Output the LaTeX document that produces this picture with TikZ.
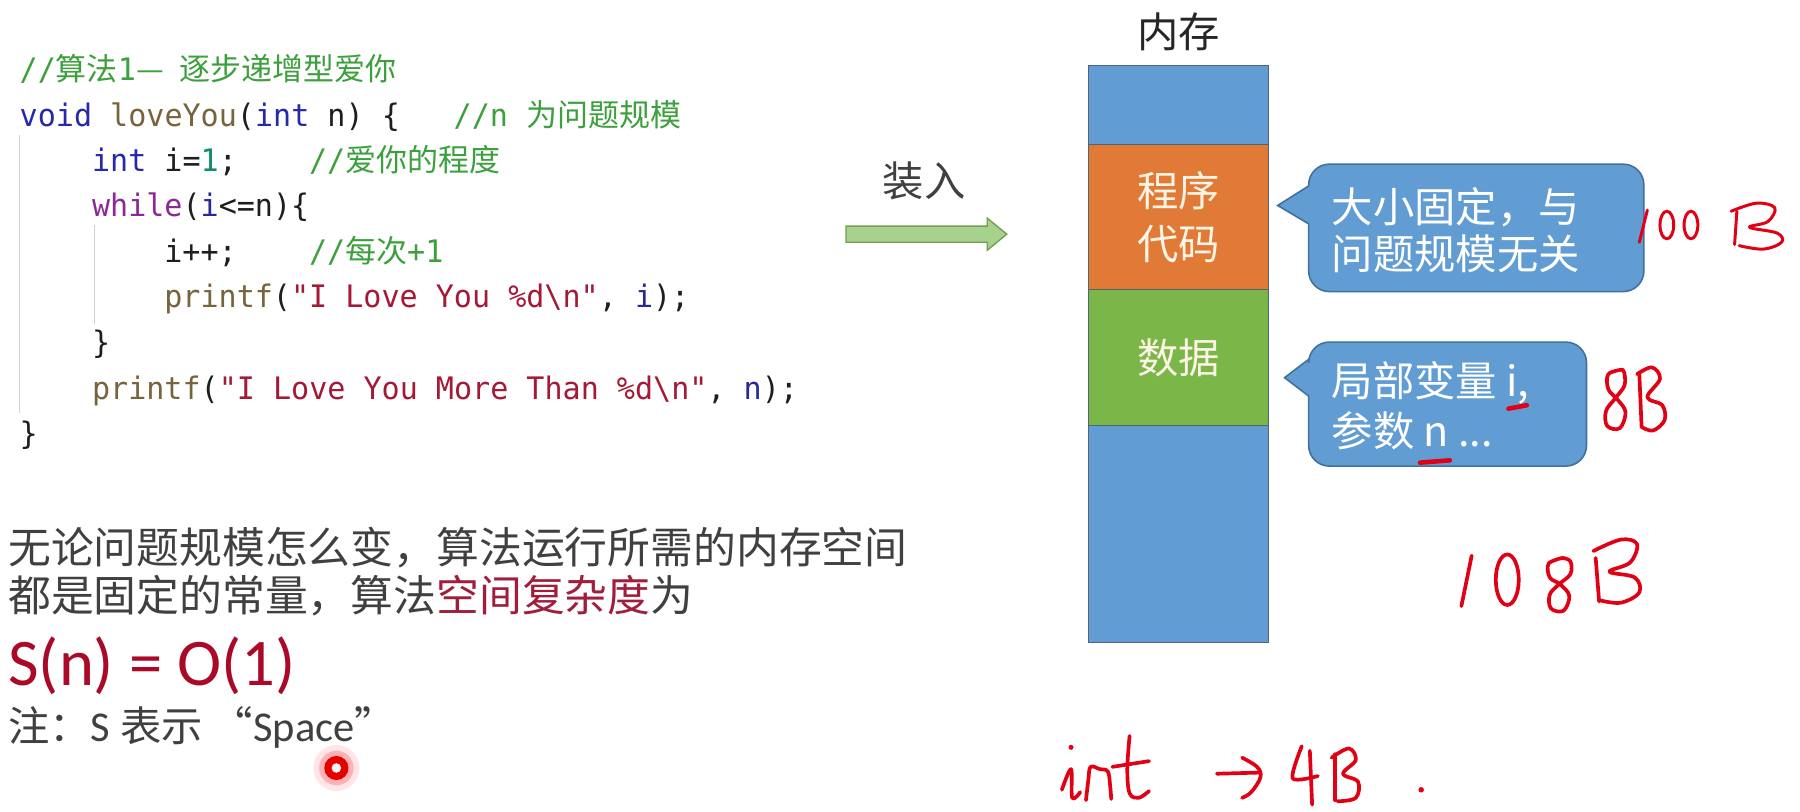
\documentclass[tikz,border=0pt]{standalone}
\usepackage{fontspec}
\setmainfont{Carlito}
\newfontfamily\cjk{Noto Sans CJK SC}
\newfontfamily\codefont{DejaVu Sans Mono}[FakeStretch=0.97]
\newcommand\fs[1]{\fontsize{#1}{#1}\selectfont}

\definecolor{bodygray}{RGB}{64,64,64}
\definecolor{keyred}{RGB}{160,30,60}
\definecolor{formred}{RGB}{170,10,40}
\definecolor{cmtgreen}{RGB}{60,160,60}
\definecolor{kwblue}{RGB}{40,40,170}
\definecolor{kwpurple}{RGB}{140,40,150}
\definecolor{fnbrown}{RGB}{120,100,60}
\definecolor{strred}{RGB}{165,25,55}
\definecolor{numteal}{RGB}{20,140,110}
\definecolor{argblue}{RGB}{40,40,150}
\definecolor{codeblack}{RGB}{30,30,30}
\definecolor{memblue}{RGB}{97,157,211}
\definecolor{memorange}{RGB}{225,122,55}
\definecolor{memgreen}{RGB}{122,182,72}
\definecolor{segline}{RGB}{80,100,120}
\definecolor{callborder}{RGB}{65,113,156}
\definecolor{arrowfill}{RGB}{169,209,142}
\definecolor{arrowdraw}{RGB}{112,160,80}
\definecolor{handred}{RGB}{225,0,20}
\definecolor{memtext}{RGB}{252,244,228}

\newcommand\ckw[1]{\textcolor{kwblue}{#1}}
\newcommand\cwh[1]{\textcolor{kwpurple}{#1}}
\newcommand\cfn[1]{\textcolor{fnbrown}{#1}}
\newcommand\cstr[1]{\textcolor{strred}{#1}}
\newcommand\cnum[1]{\textcolor{numteal}{#1}}
\newcommand\carg[1]{\textcolor{argblue}{#1}}
\newcommand\zh[1]{{\cjk\fs{27}#1}}

\tikzset{
  codeline/.style={anchor=base west, inner sep=0pt, text=codeblack, font=\codefont\fs{27}},
  cmtline/.style={codeline, text=cmtgreen},
  guide/.style={draw=black!18, line width=1pt},
  memseg/.style={rectangle, draw=segline, line width=0.8pt, minimum width=157pt,
    inner sep=0pt, outer sep=0pt, anchor=north west, align=center, text=memtext,
    font=\cjk\fontsize{36}{46}\selectfont},
  callout/.style={fill=memblue, draw=callborder, line width=1.4pt},
  calltext/.style={anchor=base west, inner sep=0pt, text=white, font=\cjk\fs{36}},
  bodytext/.style={anchor=base west, inner sep=0pt, text=bodygray, font=\cjk\fs{37.3}},
  hand/.style={draw=handred, line width=3.2pt, line cap=round, line join=round},
}

\begin{document}
\begin{tikzpicture}[x=1pt, y=-1pt]
\useasboundingbox (0,0) rectangle (1568,707);
\fill[white] (0,0) rectangle (1568,707);

% ---- source code (column width 15.75) ----
\draw[guide] (17,118) -- (17,360);
\draw[guide] (82,196) -- (82,282);

\node[cmtline] (l0) at (17,70) {//\zh{算法}1\zh{—}\hspace{14pt}\zh{逐步递增型爱你}};
\node[codeline] (l1) at (17,110) {\ckw{void} \cfn{loveYou}(\ckw{int} n) \{};
\node[cmtline] (l1c) at (395,110) {//n \zh{为问题规模}};
\node[codeline] (l2) at (80,149) {\ckw{int} i=\cnum{1};};
\node[cmtline] (l2c) at (269,149) {//\zh{爱你的程度}};
\node[codeline] (l3) at (80,189) {\cwh{while}(\carg{i}<=n)\{};
\node[codeline] (l4) at (143,229) {i++;};
\node[cmtline] (l4c) at (269,229) {//\zh{每次}+1};
\node[codeline] (l5) at (143,268) {\cfn{printf}(\cstr{"I Love You \%d\textbackslash n"}, \carg{i});};
\node[codeline] (l6) at (80,308) {\}};
\node[codeline] (l7) at (80,348) {\cfn{printf}(\cstr{"I Love You More Than \%d\textbackslash n"}, \carg{n});};
\node[codeline] (l8) at (17,387) {\}};

% ---- explanation ----
\node[bodytext] (t1) at (7,491) {无论问题规模怎么变，算法运行所需的内存空间};
\node[bodytext] (t2) at (7,533) {都是固定的常量，算法\textcolor{keyred}{空间复杂度}为};
\node[anchor=base west, inner sep=0pt, text=formred, font=\fs{58}] (form) at (7,597) {S(n) = O(1)};
\node[anchor=base west, inner sep=0pt, text=bodygray, font=\fs{37}] (note) at (7,646)
  {{\cjk\fs{36}注：}S {\cjk\fs{36}表示 “}Space{\cjk\fs{36}”}};

% laser pointer spot
\fill[red, opacity=0.10] (293,669) circle (20);
\fill[red, opacity=0.22] (293,669) circle (15);
\fill[red!90!black] (293,669) circle (10.5);
\fill[white!80!pink] (293,669) circle (4.2);

% ---- loading arrow ----
\node[font=\cjk\fs{36}, text=bodygray, inner sep=0pt] (load) at (805,158) {装入};
\filldraw[fill=arrowfill, draw=arrowdraw, line width=1.2pt]
  (737,197) -- (860,197) -- (860,190) -- (877,204) -- (860,218) -- (860,211) -- (737,211) -- cycle;

% ---- memory ----
\node[font=\cjk\fs{36}, text=black!85, inner sep=0pt] (memtitle) at (1027,28) {内存};
\node[memseg, fill=memblue, minimum height=69pt] (mtop) at (948,57) {};
\node[memseg, fill=memorange, minimum height=126pt] (mcode) at (948,126) {程序\\代码};
\node[memseg, fill=memgreen, minimum height=119pt] (mdata) at (948,252) {数据};
\node[memseg, fill=memblue, minimum height=189pt] (mrest) at (948,371) {};

% ---- callouts ----
\path[callout] (1140,195) [rounded corners=18pt] -- (1140,254) -- (1432,254) -- (1432,143) -- (1140,143)
  [sharp corners] -- (1140,162) -- (1113,179) -- cycle;
\node[calltext] (c1a) at (1160,194) {大小固定，与};
\node[calltext] (c1b) at (1160,235) {问题规模无关};

\path[callout] (1140,345) [rounded corners=18pt] -- (1140,406) -- (1382,406) -- (1382,298) -- (1140,298)
  [sharp corners] -- (1140,313) -- (1119,329) -- cycle;
\node[calltext] (c2a) at (1160,345) {局部变量 i,};
\node[calltext] (c2b) at (1160,389) {参数 n ...};

% ---- handwritten notes ----
% 100B
\draw[hand, line width=2.6pt] (1428,211) -- (1435,183);
\draw[hand, line width=2.6pt] (1452,196) ellipse [x radius=6, y radius=12];
\draw[hand, line width=2.6pt] (1473,196) ellipse [x radius=6, y radius=12];
\draw[hand, line width=2.6pt] (1513,184) -- (1511,213);
\draw[hand, line width=2.6pt] plot[smooth, tension=0.6] coordinates
  {(1508,184) (1530,177) (1546,181) (1540,193) (1524,198) (1548,203) (1552,211) (1536,217) (1515,214)};
% 8B
\draw[hand] plot[smooth, tension=0.6] coordinates
  {(1413,322) (1401,326) (1401,339) (1409,348) (1416,359) (1411,373) (1400,371) (1399,358) (1407,347) (1415,336) (1415,325) (1413,322)};
\draw[hand] (1428,325) -- (1430,372);
\draw[hand] plot[smooth, tension=0.6] coordinates
  {(1426,326) (1439,320) (1446,330) (1435,346) (1448,353) (1450,366) (1440,375) (1430,372)};
% 108B
\draw[hand] (1273,528) -- (1282,484);
\draw[hand] (1313,505) ellipse [x radius=10, y radius=22];
\draw[hand] plot[smooth, tension=0.6] coordinates
  {(1361,486) (1349,491) (1350,503) (1359,509) (1367,519) (1362,532) (1351,530) (1350,518) (1358,509) (1368,500) (1368,489) (1361,486)};
\draw[hand] (1390,486) -- (1393,524);
\draw[hand] plot[smooth, tension=0.6] coordinates
  {(1388,480) (1412,470) (1426,474) (1420,490) (1402,498) (1424,503) (1428,516) (1412,525) (1394,523)};
% int -> 4B .
\fill[handred] (933,651) circle (2.2);
\draw[hand] plot[smooth, tension=0.6] coordinates {(925,688) (933,670) (934,695) (941,690)};
\draw[hand] plot[smooth, tension=0.6] coordinates {(946,697) (948,680) (950,668) (958,670) (965,672) (967,684) (968,696)};
\draw[hand] plot[smooth, tension=0.6] coordinates {(984,641) (982,670) (984,691) (992,695) (1001,689)};
\draw[hand] (969,668) -- (1001,663);
\draw[hand] (1060,674) -- (1097,673);
\draw[hand] plot[smooth, tension=0.6] coordinates {(1082,660) (1095,668) (1098,677) (1090,690) (1082,695)};
\draw[hand] plot[smooth, tension=0.5] coordinates {(1134,650) (1126,678) (1148,676)};
\draw[hand] (1141,654) -- (1143,701);
\draw[hand] (1163,657) -- (1163,697);
\draw[hand] plot[smooth, tension=0.6] coordinates
  {(1160,660) (1175,652) (1181,662) (1170,674) (1183,681) (1181,695) (1165,698)};
\fill[handred] (1238,688) circle (2.4);
% underlines in the data callout
\draw[hand, line width=4pt] (1314,356) -- (1330,353);
\draw[hand, line width=4pt] (1237,403) -- (1263,401);
\end{tikzpicture}
\end{document}
